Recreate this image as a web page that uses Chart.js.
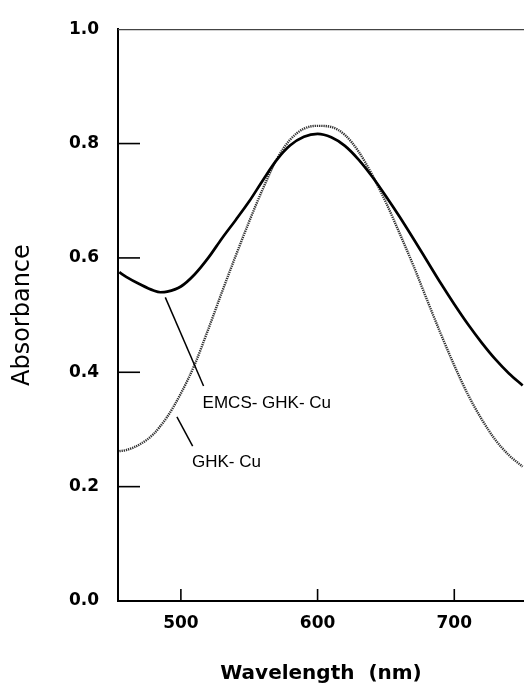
<!DOCTYPE html>
<html>
<head>
<meta charset="utf-8">
<script src="https://cdn.jsdelivr.net/npm/chart.js@4"></script>
<style>
  html, body { margin: 0; padding: 0; background: #fff; }
  #chart { display: block; }
</style>
</head>
<body>
<canvas id="chart" width="524" height="686"></canvas>
<script>
// Dati (lunghezza d'onda in nm, assorbanza)
const wavelengths = [455, 460, 470, 480, 485, 490, 500, 510, 520, 530, 540, 550, 560, 570, 580, 590, 600,
                     610, 620, 630, 640, 650, 660, 670, 680, 690, 700, 710, 720, 730, 740, 750];

const emcsGhkCu = [0.575, 0.567, 0.554, 0.543, 0.540, 0.541, 0.550, 0.571, 0.600, 0.634, 0.666, 0.699, 0.736, 0.771, 0.797, 0.812, 0.817,
                   0.811, 0.796, 0.772, 0.742, 0.708, 0.672, 0.634, 0.595, 0.556, 0.519, 0.484, 0.452, 0.423, 0.398, 0.377];

const ghkCu = [0.262, 0.264, 0.274, 0.292, 0.306, 0.322, 0.363, 0.413, 0.475, 0.540, 0.603, 0.664, 0.721, 0.772, 0.807, 0.826, 0.831,
               0.829, 0.815, 0.786, 0.745, 0.697, 0.643, 0.587, 0.527, 0.468, 0.412, 0.361, 0.318, 0.282, 0.255, 0.235];

const xTicks = [500, 600, 700];
const yTicks = [0, 0.2, 0.4, 0.6, 0.8, 1.0];

// Etichette con linea di richiamo (coordinate nei dati)
const callouts = [
  { text: 'EMCS- GHK- Cu', from: [488.6, 0.531], to: [516.6, 0.376], at: [515.9, 0.346] },
  { text: 'GHK- Cu',       from: [497.1, 0.322], to: [508.6, 0.271], at: [508.1, 0.243] }
];

function toPoints(values) {
  return wavelengths.map((x, i) => ({ x: x, y: values[i] }));
}

// Tacche interne, bordo superiore e richiami
const annotate = {
  id: 'annotate',
  afterDatasetsDraw(chart) {
    const ctx = chart.ctx;
    const xs = chart.scales.x;
    const ys = chart.scales.y;
    const area = chart.chartArea;
    ctx.save();

    // bordo superiore sottile
    ctx.strokeStyle = '#444';
    ctx.lineWidth = 1.2;
    ctx.beginPath();
    ctx.moveTo(area.left, area.top + 0.5);
    ctx.lineTo(area.right, area.top + 0.5);
    ctx.stroke();

    // tacche verso l'interno
    ctx.strokeStyle = '#000';
    ctx.lineWidth = 1.6;
    yTicks.slice(1, -1).forEach(v => {
      const py = ys.getPixelForValue(v);
      ctx.beginPath();
      ctx.moveTo(area.left, py);
      ctx.lineTo(area.left + 22, py);
      ctx.stroke();
    });
    xTicks.forEach(v => {
      const px = xs.getPixelForValue(v);
      ctx.beginPath();
      ctx.moveTo(px, area.bottom);
      ctx.lineTo(px, area.bottom - 12);
      ctx.stroke();
    });

    // richiami
    ctx.lineWidth = 1.5;
    ctx.fillStyle = '#000';
    ctx.font = '17px "Liberation Sans", Arial, sans-serif';
    ctx.textAlign = 'left';
    ctx.textBaseline = 'middle';
    callouts.forEach(c => {
      ctx.beginPath();
      ctx.moveTo(xs.getPixelForValue(c.from[0]), ys.getPixelForValue(c.from[1]));
      ctx.lineTo(xs.getPixelForValue(c.to[0]), ys.getPixelForValue(c.to[1]));
      ctx.stroke();
      ctx.fillText(c.text, xs.getPixelForValue(c.at[0]), ys.getPixelForValue(c.at[1]));
    });
    ctx.restore();
  }
};

new Chart(document.getElementById('chart'), {
  type: 'line',
  data: {
    datasets: [{
      label: 'EMCS-GHK-Cu',
      data: toPoints(emcsGhkCu),
      borderColor: '#000',
      borderWidth: 2.7,
      pointRadius: 0,
      cubicInterpolationMode: 'monotone',
      fill: false
    }, {
      label: 'GHK-Cu',
      data: toPoints(ghkCu),
      borderColor: '#333',
      borderWidth: 2.4,
      borderDash: [1.3, 0.9],
      pointRadius: 0,
      cubicInterpolationMode: 'monotone',
      fill: false
    }]
  },
  options: {
    responsive: false,
    animation: false,
    layout: { padding: { top: 20, right: 0, bottom: 0, left: 0 } },
    plugins: {
      legend: { display: false },
      tooltip: { enabled: false }
    },
    scales: {
      x: {
        type: 'linear',
        min: 454,
        max: 751,
        afterFit(scale) { scale.height = 85; },
        afterBuildTicks(scale) { scale.ticks = xTicks.map(v => ({ value: v })); },
        grid: { display: false, drawTicks: false },
        border: { display: true, color: '#000', width: 2 },
        ticks: {
          padding: 12,
          color: '#000',
          font: { family: '"DejaVu Sans"', size: 17, weight: 'bold' },
          maxRotation: 0
        },
        title: {
          display: true,
          text: 'Wavelength  (nm)',
          color: '#000',
          font: { family: '"DejaVu Sans"', size: 20, weight: 'bold' },
          padding: { top: 0, bottom: 0 }
        }
      },
      y: {
        min: 0,
        max: 1,
        afterFit(scale) { scale.width = 118; },
        afterBuildTicks(scale) { scale.ticks = yTicks.map(v => ({ value: v })); },
        grid: { display: false, drawTicks: false },
        border: { display: true, color: '#000', width: 2 },
        ticks: {
          padding: 19,
          color: '#000',
          font: { family: '"DejaVu Sans"', size: 17, weight: 'bold' },
          callback: v => v.toFixed(1)
        },
        title: {
          display: true,
          text: 'Absorbance',
          color: '#000',
          font: { family: '"DejaVu Sans"', size: 24 },
          padding: { top: 8, bottom: 0 }
        }
      }
    }
  },
  plugins: [annotate]
});
</script>
</body>
</html>
